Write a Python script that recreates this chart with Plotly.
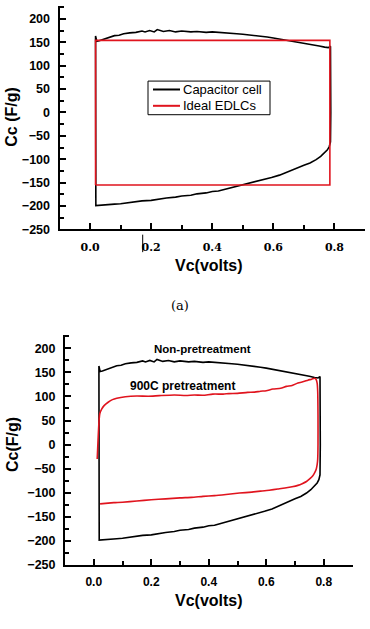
import plotly.graph_objects as go

W, H = 370, 629

# ---- data ----
cell_v = [0.018, 0.022, 0.03, 0.045, 0.06, 0.08, 0.095, 0.11, 0.13, 0.15, 0.17, 0.18, 0.195, 0.21, 0.22,
          0.24, 0.26, 0.28, 0.30, 0.33, 0.35, 0.38, 0.40, 0.43, 0.45, 0.48, 0.50, 0.535, 0.56, 0.58,
          0.60, 0.623, 0.64, 0.66, 0.68, 0.71, 0.73, 0.75, 0.768, 0.78, 0.787,
          0.788, 0.788, 0.787,
          0.783, 0.777, 0.768, 0.755, 0.74, 0.72, 0.70, 0.681, 0.66, 0.64, 0.62, 0.594, 0.57, 0.55,
          0.53, 0.507, 0.48, 0.46, 0.44, 0.42, 0.40, 0.38, 0.35, 0.33, 0.30, 0.28, 0.25, 0.22, 0.20,
          0.17, 0.15, 0.12, 0.10, 0.08, 0.05, 0.035, 0.025, 0.019, 0.018]
cell_c = [163.5, 152, 153, 156, 160, 164, 165, 168, 170, 171, 174, 172, 175, 172, 177,
          173, 175, 172, 174, 172, 173, 171, 172, 170, 170, 168, 167, 165, 163, 161,
          159, 156.5, 154, 152, 150, 147.5, 145, 142, 139.5, 138.5, 141.5,
          100, 0, -63,
          -73, -80, -86, -94, -101, -108, -113, -118, -124, -129, -134, -139, -143, -147,
          -150, -154, -158, -161, -164, -168, -169, -172, -174, -177, -178.5, -181, -183, -186, -188,
          -189, -191, -193, -195, -196, -198, -199, -199, -199, 163.5]

ideal_v = [0.018, 0.018, 0.785, 0.785, 0.018]
ideal_c = [-155, 154, 154, -155, -155]

pre_v = [0.012, 0.015, 0.018, 0.021, 0.028, 0.036, 0.05, 0.065, 0.08, 0.11, 0.15, 0.19, 0.228, 0.28,
         0.32, 0.35, 0.38, 0.414, 0.45, 0.47, 0.50, 0.535, 0.56, 0.58, 0.60, 0.623, 0.65, 0.67, 0.69,
         0.71, 0.73, 0.745, 0.758, 0.768, 0.773, 0.777, 0.779, 0.78, 0.78, 0.779,
         0.777, 0.774, 0.769, 0.762, 0.752, 0.74, 0.725, 0.71, 0.69, 0.665, 0.64, 0.61, 0.58, 0.55,
         0.507, 0.46, 0.42, 0.38, 0.34, 0.30, 0.25, 0.20, 0.15, 0.10, 0.07, 0.05, 0.022]
pre_c = [-30, 10, 45, 64, 74, 81, 88, 93.5, 96.5, 99.6, 101, 100.5, 101.7, 103,
         102, 103, 102.5, 105, 105, 106, 106.5, 108.6, 109, 111, 112, 115.5, 117, 121, 123,
         128, 131, 134, 136, 138, 136, 128, 110, 60, 0, -30,
         -42, -51, -58, -65, -71, -77, -81.5, -85, -88, -90.5, -92.5, -95, -97, -99,
         -101, -104, -106.4, -108, -110, -111, -113, -115, -117.5, -120, -121, -122, -123.5]

x_ticks = [0.0, 0.2, 0.4, 0.6, 0.8]
x_ticklabels = ["0.0", "0.2", "0.4", "0.6", "0.8"]
y_ticks = [-250, -200, -150, -100, -50, 0, 50, 100, 150, 200]
legend_names = ["Capacitor cell", "Ideal EDLCs"]

BLACK = "#000000"
RED = "#e0141e"
SANS = "Arial"
SERIF = "DejaVu Serif"


def px(xp):
    return xp / W


def py(yp):
    return 1 - yp / H


fig = go.Figure()

# top chart traces
fig.add_trace(go.Scatter(x=cell_v, y=cell_c, mode="lines", name=legend_names[0],
                         line=dict(color=BLACK, width=1.6), xaxis="x", yaxis="y"))
fig.add_trace(go.Scatter(x=ideal_v, y=ideal_c, mode="lines", name=legend_names[1],
                         line=dict(color=RED, width=1.6), xaxis="x", yaxis="y"))
# bottom chart traces
fig.add_trace(go.Scatter(x=cell_v, y=cell_c, mode="lines", name="Non-pretreatment",
                         line=dict(color=BLACK, width=1.6), xaxis="x2", yaxis="y2"))
fig.add_trace(go.Scatter(x=pre_v, y=pre_c, mode="lines", name="900C pretreatment",
                         line=dict(color=RED, width=1.6, shape="spline", smoothing=0.6),
                         xaxis="x2", yaxis="y2"))

sans_b = dict(family=SANS, color=BLACK, weight="bold")

common_ax = dict(showline=True, linewidth=2, linecolor=BLACK, showgrid=False, zeroline=False,
                 ticks="inside", ticklen=6, tickwidth=2, tickcolor=BLACK, mirror=False)

yax = dict(common_ax, range=[-250, 227.5], tickvals=y_ticks,
           tickfont=dict(sans_b, size=12.5), ticklabelstandoff=5,
           minor=dict(ticks="inside", ticklen=4, tickwidth=2, tickcolor=BLACK, dtick=25, tick0=0))

fig.update_layout(
    width=W, height=H, margin=dict(l=0, r=0, t=0, b=0),
    paper_bgcolor="white", plot_bgcolor="white",
    font=dict(family=SANS),
    showlegend=False,
    xaxis=dict(common_ax, domain=[px(59.5), px(365)], anchor="y", range=[-0.1, 0.9],
               tickvals=x_ticks, ticktext=x_ticklabels,
               tickfont=dict(family=SERIF, size=11, color=BLACK, weight="bold"),
               ticklabelstandoff=6,
               minor=dict(ticks="inside", ticklen=4, tickwidth=2, tickcolor=BLACK, dtick=0.1, tick0=0)),
    yaxis=dict(yax, domain=[py(232), py(6)], anchor="x"),
    xaxis2=dict(common_ax, domain=[px(65), px(352.5)], anchor="y2", range=[-0.1, 0.9],
                tickvals=x_ticks, ticktext=x_ticklabels,
                tickfont=dict(sans_b, size=12), ticklabelstandoff=5,
                minor=dict(ticks="inside", ticklen=4, tickwidth=2, tickcolor=BLACK, dtick=0.1, tick0=0)),
    yaxis2=dict(yax, domain=[py(571), py(339)], anchor="x2"),
)

# legend box (drawn to match the original's compact Origin-style legend)
fig.add_shape(type="rect", xref="paper", yref="paper",
              x0=px(148), x1=px(270), y0=py(116), y1=py(82),
              line=dict(color=BLACK, width=1), fillcolor="white", layer="above")
for i, (nm, col) in enumerate(zip(legend_names, [BLACK, RED])):
    yy = 90.5 + i * 16.5
    fig.add_shape(type="line", xref="paper", yref="paper",
                  x0=px(153), x1=px(180), y0=py(yy), y1=py(yy),
                  line=dict(color=col, width=2), layer="above")
    fig.add_annotation(xref="paper", yref="paper", showarrow=False, text=nm,
                       x=px(181), y=py(yy), xanchor="left", yanchor="middle",
                       font=dict(family=SANS, size=13, color=BLACK))

annots = [
    dict(text="Cc (F/g)", x=px(12), y=py(118), textangle=-90, font=dict(sans_b, size=16)),
    dict(text="Vc(volts)", x=px(209), y=py(268.5), font=dict(sans_b, size=16)),
    dict(text="(a)", x=px(180), y=py(308.5), font=dict(family=SERIF, size=13, color=BLACK)),
    dict(text="Cc(F/g)", x=px(13), y=py(450), textangle=-90, font=dict(sans_b, size=16)),
    dict(text="Vc(volts)", x=px(208.7), y=py(607), font=dict(sans_b, size=16)),
    dict(text="Non-pretreatment", x=px(202.5), y=py(352.5), font=dict(sans_b, size=11.5)),
    dict(text="900C pretreatment", x=px(182.5), y=py(390.5), font=dict(sans_b, size=12)),
]
for a in annots:
    fig.add_annotation(xref="paper", yref="paper", showarrow=False,
                       xanchor="center", yanchor="middle", **a)

# small cursor mark seen in the original image
fig.add_shape(type="line", xref="paper", yref="paper",
              x0=px(142.7), x1=px(142.7), y0=py(237.3), y1=py(255),
              line=dict(color=BLACK, width=1))

fig.write_html("out.html",
               config={"displayModeBar": False},
               post_script="document.body.style.margin='0';document.body.style.padding='0';")
